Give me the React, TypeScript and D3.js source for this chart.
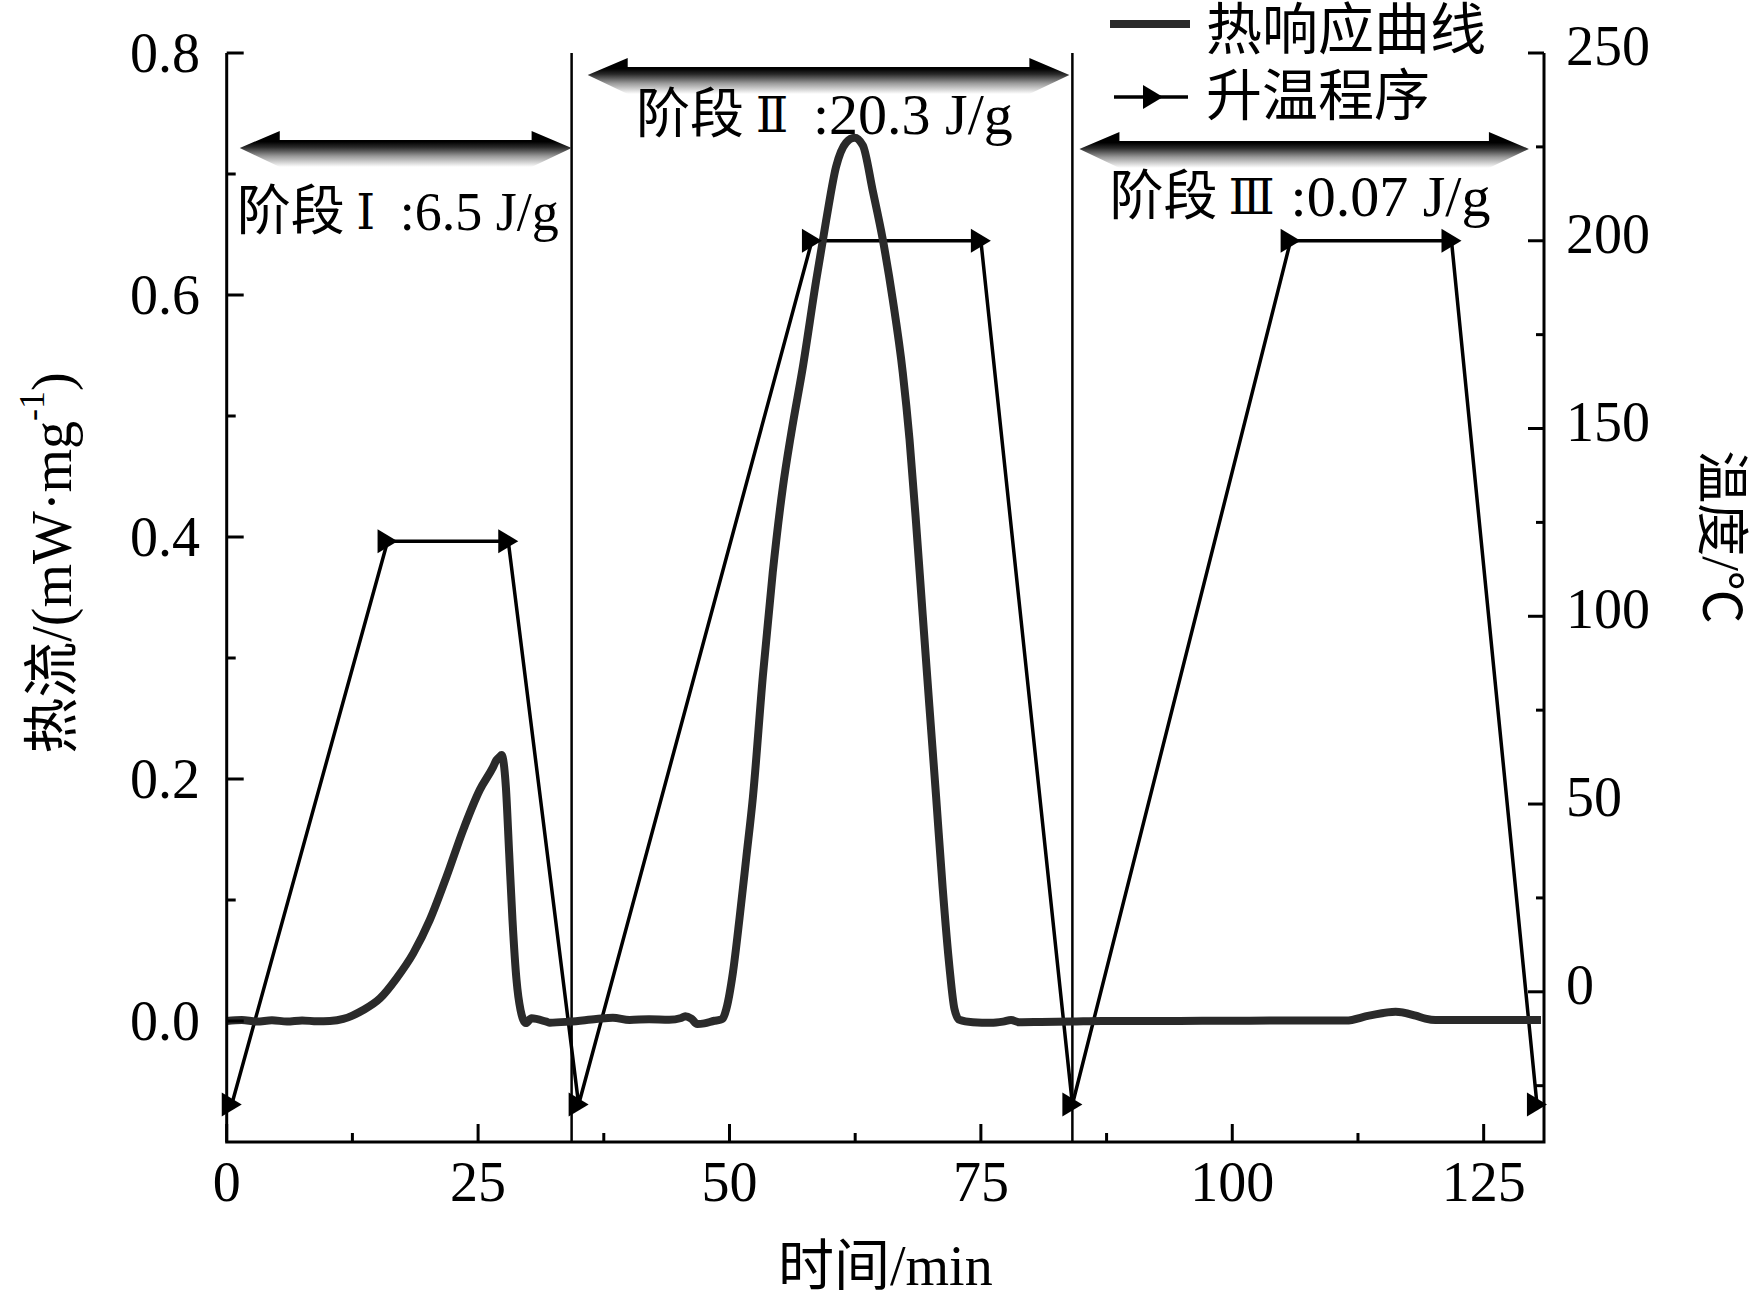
import React, { useRef, useEffect } from 'react';
import * as d3 from 'd3';

const WIDTH = 1755;
const HEIGHT = 1304;

// heat response curve: time (min) and heat flow (mW/mg)
const heatTime = [
    0, 1.5, 3, 4.5, 6, 7.5, 9, 10.26, 11.59, 12.5, 13.58, 15.24, 16.89, 18.55, 20.2, 21.86, 23.52,
    25.17, 26.5, 26.83, 27.16, 27.33, 27.76, 28.09, 28.42, 28.82, 29.22, 29.75, 30.31, 31.8, 32.13,
    34.1, 36.75, 38.4, 40.06, 42, 44, 45.2, 45.6, 46.2, 46.8, 47.5, 48.5, 49.07, 49.35, 49.68, 50.34,
    51.0, 51.67, 52.33, 53.32, 54.3, 55.3, 56.14, 57.3, 58.6, 59.6, 60.6, 61.6, 62.43, 63.26, 64.25,
    65.24, 66.24, 67.23, 67.9, 68.56, 69.22, 69.88, 70.55, 71.2, 71.87, 72.37, 72.86, 74.2, 76, 77.2,
    78, 78.8, 81, 84, 87, 92, 97, 101.7, 106, 111.3, 113.6, 116.25, 118.24, 119.2, 120.2, 125, 130.7,
];
const heatFlow = [
    0, 0.0008, -0.0005, 0.0006, -0.0004, 0.0005, -0.0003, 0, 0.0017, 0.0045, 0.0091, 0.0187, 0.0353,
    0.0559, 0.0835, 0.1193, 0.158, 0.191, 0.21, 0.2157, 0.2185, 0.2198, 0.1937, 0.1386, 0.0835,
    0.0339, 0.0091, -0.0017, 0.0022, -0.0006, -0.0014, -0.0005, 0.0016, 0.0027, 0.0008, 0.0015,
    0.001, 0.0025, 0.004, 0.002, -0.0025, -0.002, 0.0002, 0.001, 0.0023, 0.0098, 0.04, 0.085, 0.135,
    0.185, 0.2853, 0.3705, 0.4406, 0.4857, 0.5407, 0.611, 0.661, 0.706, 0.726, 0.73, 0.7236, 0.686,
    0.646, 0.596, 0.536, 0.481, 0.411, 0.335, 0.26, 0.185, 0.11, 0.045, 0.01, 0.001, -0.001, -0.0015,
    -0.0005, 0.0008, -0.001, -0.0008, -0.0005, 0, 0, 0.0002, 0.0003, 0.0004, 0.0004, 0.0044, 0.0077,
    0.0044, 0.002, 0.0008, 0.0008, 0.0008,
];

// heating program: time (min) and temperature (°C)
const tempTime = [0.5, 16.0, 28.0, 35.0, 58.2, 75.0, 84.1, 105.8, 121.8, 130.3];
const tempValue = [-30, 120, 120, -30, 200, 200, -30, 200, 200, -30];

// stage separators and annotations
const stageBounds = [34.3, 84.1];
const stageNumerals = ['Ⅰ', 'Ⅱ', 'Ⅲ'];
const stageEnergy = [':6.5 J/g', ':20.3 J/g', ':0.07 J/g'];
const stageLabelX = [1.0, 40.7, 87.8];
const stageLabelY = [0.669, 0.749, 0.681];
const arrowStart = [1.3, 35.9, 84.8];
const arrowEnd = [34.3, 83.8, 129.5];
const arrowY = [0.7215, 0.7818, 0.7207];

const xTicks = [0, 25, 50, 75, 100, 125];
const xMinor = [12.5, 37.5, 62.5, 87.5, 112.5];
const leftTicks = [0, 0.2, 0.4, 0.6, 0.8];
const leftMinor = [0.1, 0.3, 0.5, 0.7];
const rightTicks = [0, 50, 100, 150, 200, 250];
const rightMinor = [-25, 25, 75, 125, 175, 225];

const legendLabels = ['热响应曲线', '升温程序'];

const FONT = "'Liberation Serif', 'Times New Roman', 'Noto Sans CJK SC', serif";
const NUMERAL_FONT = "'DejaVu Serif', 'Liberation Serif', serif";
const CURVE_COLOR = '#2a2a2a';

const App: React.FC = () => {
    const svgRef = useRef<SVGSVGElement>(null);

    useEffect(() => {
        if (!svgRef.current) return;
        const svg = d3.select(svgRef.current);
        svg.selectAll('*').remove();

        const left = 226.7, right = 1544, top = 53, bottom = 1142;

        const x = d3.scaleLinear().domain([0, 131]).range([left, right]);
        const yL = d3.scaleLinear().domain([-0.1, 0.8]).range([bottom, top]);
        const yR = d3.scaleLinear().domain([-40, 250]).range([bottom, top]);

        svg.append('rect').attr('width', WIDTH).attr('height', HEIGHT).attr('fill', '#fff');

        const defs = svg.append('defs');
        const grad = defs.append('linearGradient')
            .attr('id', 'arrow-shade')
            .attr('x1', 0).attr('y1', 0).attr('x2', 0).attr('y2', 1);
        [[0, '#000'], [0.3, '#000'], [0.45, '#2a2a2a'], [0.7, '#999'], [1, '#fff']].forEach(([o, c]) => {
            grad.append('stop').attr('offset', o as number).attr('stop-color', c as string);
        });

        // stage separators
        svg.selectAll('line.sep')
            .data(stageBounds)
            .join('line')
            .attr('class', 'sep')
            .attr('x1', d => x(d)).attr('x2', d => x(d))
            .attr('y1', top).attr('y2', bottom)
            .attr('stroke', '#000').attr('stroke-width', 2.5);

        // double arrows
        const headLen = 40;
        stageNumerals.forEach((_, i) => {
            const x0 = x(arrowStart[i]);
            const x1 = x(arrowEnd[i]);
            const yc = yL(arrowY[i]);
            const pts: [number, number][] = [
                [x0, yc], [x0 + headLen, yc - 17], [x0 + headLen, yc - 8], [x1 - headLen, yc - 8],
                [x1 - headLen, yc - 17], [x1, yc], [x1 - headLen, yc + 19], [x0 + headLen, yc + 19],
            ];
            svg.append('polygon')
                .attr('points', pts.map(p => p.join(',')).join(' '))
                .attr('fill', 'url(#arrow-shade)');
        });

        // stage labels: "阶段" + numeral + energy
        const numeralOffset = [129, 136, 142];
        const energyOffset = [163, 177, 181];
        const energySize = [54, 58, 58];
        stageNumerals.forEach((num, i) => {
            const g = svg.append('g')
                .attr('transform', `translate(${x(stageLabelX[i])},${yL(stageLabelY[i])})`)
                .attr('font-family', FONT)
                .attr('font-size', 54);
            g.append('text').attr('dominant-baseline', 'central').text('阶段');
            g.append('text').attr('dominant-baseline', 'central')
                .attr('x', numeralOffset[i]).attr('text-anchor', 'middle')
                .attr('font-family', NUMERAL_FONT).attr('font-size', 48)
                .text(num);
            g.append('text').attr('dominant-baseline', 'central')
                .attr('x', energyOffset[i])
                .attr('font-size', energySize[i])
                .text(stageEnergy[i]);
        });

        // heating program
        const tempPts = tempTime.map((t, i) => [t, tempValue[i]] as [number, number]);
        svg.append('path')
            .datum(tempPts)
            .attr('d', d3.line<[number, number]>().x(d => x(d[0])).y(d => yR(d[1])))
            .attr('fill', 'none')
            .attr('stroke', '#000')
            .attr('stroke-width', 3.5);

        // heat response curve
        const heatPts = heatTime.map((t, i) => [t, heatFlow[i]] as [number, number]);
        svg.append('path')
            .datum(heatPts)
            .attr('d', d3.line<[number, number]>()
                .x(d => x(d[0])).y(d => yL(d[1]))
                .curve(d3.curveMonotoneX))
            .attr('fill', 'none')
            .attr('stroke', CURVE_COLOR)
            .attr('stroke-width', 8)
            .attr('stroke-linejoin', 'round');

        // triangle markers
        const tri = (cx: number, cy: number) => `M${cx - 10},${cy - 12}L${cx + 10},${cy}L${cx - 10},${cy + 12}Z`;
        svg.selectAll('path.marker')
            .data(tempPts)
            .join('path')
            .attr('class', 'marker')
            .attr('d', d => tri(x(d[0]), yR(d[1])))
            .attr('fill', '#000');

        // axes frame
        const frame = svg.append('g').attr('stroke', '#000').attr('stroke-width', 3).attr('fill', 'none');
        frame.append('path').attr('d', `M${left},${top}V${bottom}H${right}V${top}`);

        const tickG = svg.append('g').attr('stroke', '#000').attr('stroke-width', 3);
        // bottom ticks (inward)
        xTicks.forEach(t => tickG.append('line').attr('x1', x(t)).attr('x2', x(t)).attr('y1', bottom).attr('y2', bottom - 18));
        xMinor.forEach(t => tickG.append('line').attr('x1', x(t)).attr('x2', x(t)).attr('y1', bottom).attr('y2', bottom - 9));
        // left ticks
        leftTicks.forEach(t => tickG.append('line').attr('x1', left).attr('x2', left + 17).attr('y1', yL(t)).attr('y2', yL(t)));
        leftMinor.forEach(t => tickG.append('line').attr('x1', left).attr('x2', left + 9).attr('y1', yL(t)).attr('y2', yL(t)));
        // right ticks
        rightTicks.forEach(t => tickG.append('line').attr('x1', right).attr('x2', right - 16).attr('y1', yR(t)).attr('y2', yR(t)));
        rightMinor.forEach(t => tickG.append('line').attr('x1', right).attr('x2', right - 8).attr('y1', yR(t)).attr('y2', yR(t)));

        const labelG = svg.append('g').attr('font-family', FONT).attr('font-size', 56).attr('fill', '#000');
        xTicks.forEach(t => labelG.append('text')
            .attr('x', x(t)).attr('y', 1182)
            .attr('text-anchor', 'middle').attr('dominant-baseline', 'central')
            .text(String(t)));
        leftTicks.forEach(t => labelG.append('text')
            .attr('x', 200).attr('y', yL(t))
            .attr('text-anchor', 'end').attr('dominant-baseline', 'central')
            .text(d3.format('.1f')(t)));
        rightTicks.forEach(t => labelG.append('text')
            .attr('x', 1566).attr('y', yR(t) - 7)
            .attr('dominant-baseline', 'central')
            .text(String(t)));

        // axis titles
        labelG.append('text')
            .attr('x', (left + right) / 2).attr('y', 1266)
            .attr('text-anchor', 'middle').attr('dominant-baseline', 'central')
            .text('时间/min');

        const yTitle = labelG.append('text')
            .attr('transform', 'translate(52,563) rotate(-90)')
            .attr('text-anchor', 'middle').attr('dominant-baseline', 'central');
        yTitle.append('tspan').text('热流/(mW·mg');
        yTitle.append('tspan').attr('dy', -20).attr('font-size', 36).text('-1');
        yTitle.append('tspan').attr('dy', 20).text(')');

        labelG.append('text')
            .attr('transform', 'translate(1721,537) rotate(90)')
            .attr('text-anchor', 'middle').attr('dominant-baseline', 'central')
            .attr('font-size', 53)
            .text('温度/℃');

        // legend
        const lg = svg.append('g');
        lg.append('line').attr('x1', 1110).attr('x2', 1190).attr('y1', 24).attr('y2', 24)
            .attr('stroke', CURVE_COLOR).attr('stroke-width', 8);
        lg.append('line').attr('x1', 1114).attr('x2', 1188).attr('y1', 97).attr('y2', 97)
            .attr('stroke', '#000').attr('stroke-width', 3.5);
        lg.append('path').attr('d', tri(1153, 97)).attr('fill', '#000');
        legendLabels.forEach((l, i) => lg.append('text')
            .attr('x', 1206).attr('y', 30 + i * 66)
            .attr('dominant-baseline', 'central')
            .attr('font-family', FONT).attr('font-size', 56)
            .text(l));
    }, []);

    return (
        <svg
            ref={svgRef}
            width={WIDTH}
            height={HEIGHT}
            viewBox={`0 0 ${WIDTH} ${HEIGHT}`}
            style={{ position: 'absolute', left: 0, top: 0, display: 'block' }}
        />
    );
};

export default App;
